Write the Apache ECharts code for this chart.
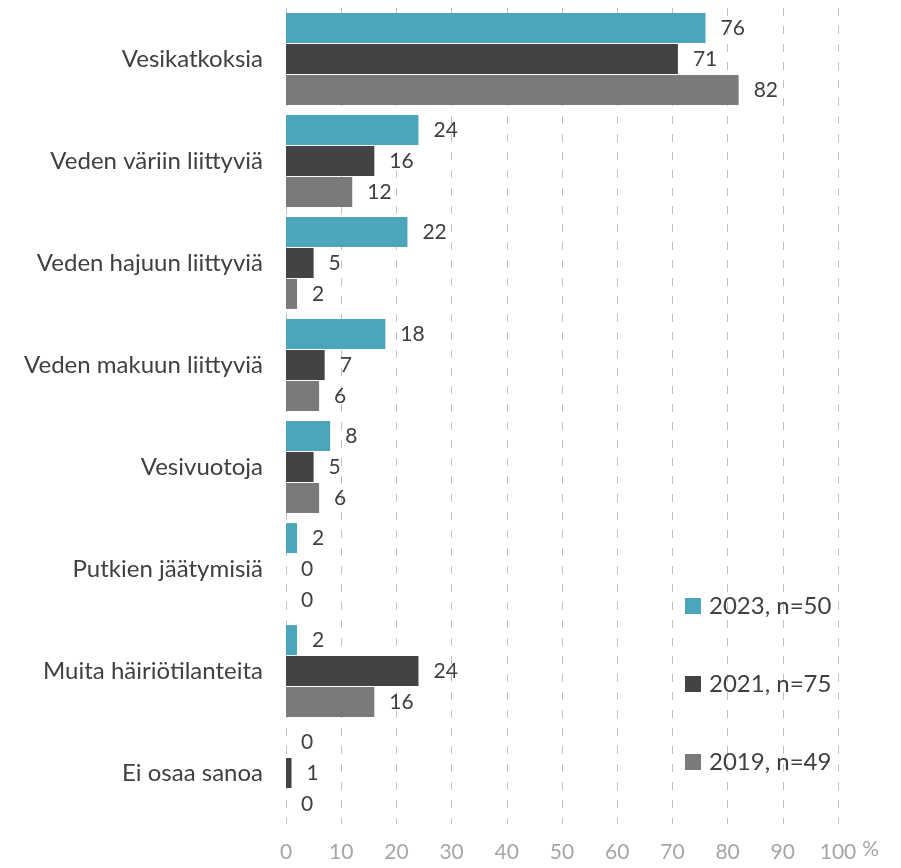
<!DOCTYPE html>
<html>
<head>
<meta charset="utf-8">
<script src="https://cdn.jsdelivr.net/npm/echarts@6/dist/echarts.min.js"></script>
<style>
  html, body { margin: 0; padding: 0; background: #fff; }
  #main { width: 901px; height: 868px; }
</style>
</head>
<body>
<div id="main"></div>
<script>
var categories = ['Vesikatkoksia', 'Veden väriin liittyviä', 'Veden hajuun liittyviä',
    'Veden makuun liittyviä', 'Vesivuotoja', 'Putkien jäätymisiä', 'Muita häiriötilanteita', 'Ei osaa sanoa'];
var seriesNames = ['2023, n=50', '2021, n=75', '2019, n=49'];
var values2023 = [76, 24, 22, 18, 8, 2, 2, 0];
var values2021 = [71, 16, 5, 7, 5, 0, 24, 1];
var values2019 = [82, 12, 2, 6, 6, 0, 16, 0];
var xTicks = [0, 10, 20, 30, 40, 50, 60, 70, 80, 90, 100];

var colors = ['#4BA6BC', '#434343', '#7A7A7A'];
var fontFam = 'Lato, "Open Sans", sans-serif';

function makeSeries(name, data, color) {
    return {
        name: name,
        type: 'bar',
        data: data,
        barWidth: 30,
        barGap: '3%',
        itemStyle: { color: color },
        label: {
            show: true,
            position: 'right',
            distance: 15,
            color: '#404040',
            fontSize: 21,
            fontFamily: fontFam
        }
    };
}

var option = {
    animation: false,
    color: colors,
    grid: { left: 286, right: 63, top: 8, bottom: 44, containLabel: false },
    legend: {
        orient: 'vertical',
        left: 680,
        top: 589,
        itemWidth: 16,
        itemHeight: 16,
        itemGap: 54,
        icon: 'rect',
        data: seriesNames,
        textStyle: { color: '#404040', fontSize: 24, lineHeight: 24, fontFamily: fontFam, padding: [0, 0, 0, 3] }
    },
    xAxis: {
        type: 'value',
        min: 0,
        max: 100,
        interval: 10,
        name: '%',
        nameLocation: 'end',
        nameGap: 8,
        nameTextStyle: { color: '#A6A6A6', fontSize: 21, fontFamily: fontFam, verticalAlign: 'top', padding: [15, 0, 0, 0] },
        axisLine: { show: false },
        axisTick: { show: false },
        axisLabel: {
            color: '#A6A6A6',
            fontSize: 21,
            fontFamily: fontFam,
            margin: 18,
            formatter: function (v) { return xTicks.indexOf(v) >= 0 ? String(v) : ''; }
        },
        splitLine: { show: true, lineStyle: { color: '#BFBFBF', type: [8, 10], width: 1 } }
    },
    yAxis: {
        type: 'category',
        data: categories,
        inverse: true,
        axisLine: { show: false },
        axisTick: { show: false },
        axisLabel: { color: '#404040', fontSize: 24, fontFamily: fontFam, margin: 23 }
    },
    series: [
        makeSeries(seriesNames[0], values2023, colors[0]),
        makeSeries(seriesNames[1], values2021, colors[1]),
        makeSeries(seriesNames[2], values2019, colors[2])
    ]
};

var myChart = echarts.init(document.getElementById('main'));
myChart.setOption(option);
</script>
</body>
</html>
